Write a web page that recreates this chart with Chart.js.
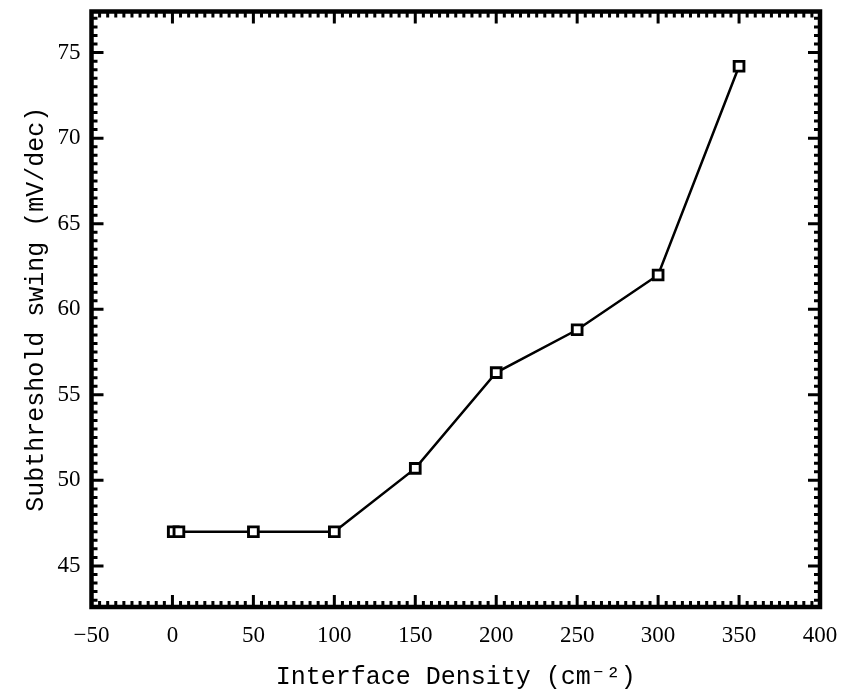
<!DOCTYPE html>
<html>
<head>
<meta charset="utf-8">
<script src="https://cdn.jsdelivr.net/npm/chart.js@4"></script>
<style>
  html, body { margin: 0; padding: 0; background: #fff; }
  #wrap { width: 843px; height: 693px; }
</style>
</head>
<body>
<div id="wrap"><canvas id="swing_chart" width="843" height="693"></canvas></div>
<script>
// data
const densityValues = [0.5, 4, 50, 100, 150, 200, 250, 300, 350];
const swingValues = [47.0, 47.0, 47.0, 47.0, 50.7, 56.3, 58.8, 62.0, 74.2];
const xTickValues = [-50, 0, 50, 100, 150, 200, 250, 300, 350, 400];
const yTickValues = [45, 50, 55, 60, 65, 70, 75];

const labelFont = { family: "'Liberation Serif', serif", size: 23 };
const titleFont = { family: "'Liberation Mono', monospace", size: 25 };

// box frame + inward ticks on every side (major / minor)
const frameTicks = {
  id: 'frameTicks',
  afterDraw(chart) {
    const ctx = chart.ctx;
    const area = chart.chartArea;
    const xs = chart.scales.x;
    const ys = chart.scales.y;
    ctx.save();
    ctx.strokeStyle = '#000';
    ctx.lineCap = 'butt';

    ctx.lineWidth = 3;
    for (let v = -50; v <= 400; v += 5) {
      const px = xs.getPixelForValue(v);
      const len = (v % 50 === 0) ? 12 : 6;
      ctx.beginPath();
      ctx.moveTo(px, area.bottom); ctx.lineTo(px, area.bottom - len);
      ctx.moveTo(px, area.top); ctx.lineTo(px, area.top + len);
      ctx.stroke();
    }
    for (let i = 85; i <= 155; i++) {
      const v = i / 2;
      if (v < ys.min || v > ys.max) continue;
      const py = ys.getPixelForValue(v);
      const len = (i % 10 === 0) ? 12 : 6;
      ctx.beginPath();
      ctx.moveTo(area.left, py); ctx.lineTo(area.left + len, py);
      ctx.moveTo(area.right, py); ctx.lineTo(area.right - len, py);
      ctx.stroke();
    }

    ctx.lineWidth = 4.5;
    ctx.strokeRect(area.left, area.top, area.right - area.left, area.bottom - area.top);
    ctx.restore();
  }
};

const config = {
  type: 'line',
  data: {
    datasets: [{
      data: densityValues.map((d, i) => ({ x: d, y: swingValues[i] })),
      borderColor: '#000',
      borderWidth: 2.5,
      pointStyle: 'rect',
      pointRadius: 6.9,
      pointBorderWidth: 2.9,
      pointBorderColor: '#000',
      pointBackgroundColor: '#fff',
      tension: 0
    }]
  },
  options: {
    responsive: false,
    animation: false,
    events: [],
    layout: { padding: { top: 11.5, right: 23, left: 0, bottom: 0 } },
    plugins: {
      legend: { display: false },
      tooltip: { enabled: false }
    },
    scales: {
      x: {
        type: 'linear',
        min: -50,
        max: 400,
        grid: { display: false, drawTicks: false },
        border: { display: false },
        afterBuildTicks: (scale) => { scale.ticks = xTickValues.map(v => ({ value: v })); },
        afterFit: (scale) => { scale.height = 86; scale.paddingLeft = 0; scale.paddingRight = 0; },
        ticks: {
          color: '#000',
          font: labelFont,
          padding: 15,
          maxRotation: 0,
          callback: (v) => (v < 0 ? '\u2212' + Math.abs(v) : v)
        },
        title: {
          display: true,
          text: 'Interface Density (cm\u207B\u00B2)',
          color: '#000',
          font: titleFont,
          padding: { top: 0, bottom: 1 }
        }
      },
      y: {
        type: 'linear',
        min: 42.6,
        max: 77.4,
        grid: { display: false, drawTicks: false },
        border: { display: false },
        afterBuildTicks: (scale) => { scale.ticks = yTickValues.map(v => ({ value: v })); },
        afterFit: (scale) => { scale.width = 91.5; scale.paddingTop = 0; scale.paddingBottom = 0; },
        ticks: {
          color: '#000',
          font: labelFont,
          padding: 11
        },
        title: {
          display: true,
          text: 'Subthreshold swing (mV/dec)',
          color: '#000',
          font: titleFont,
          padding: { top: 21, bottom: 0 }
        }
      }
    }
  },
  plugins: [frameTicks]
};

new Chart(document.getElementById('swing_chart'), config);
</script>
</body>
</html>
